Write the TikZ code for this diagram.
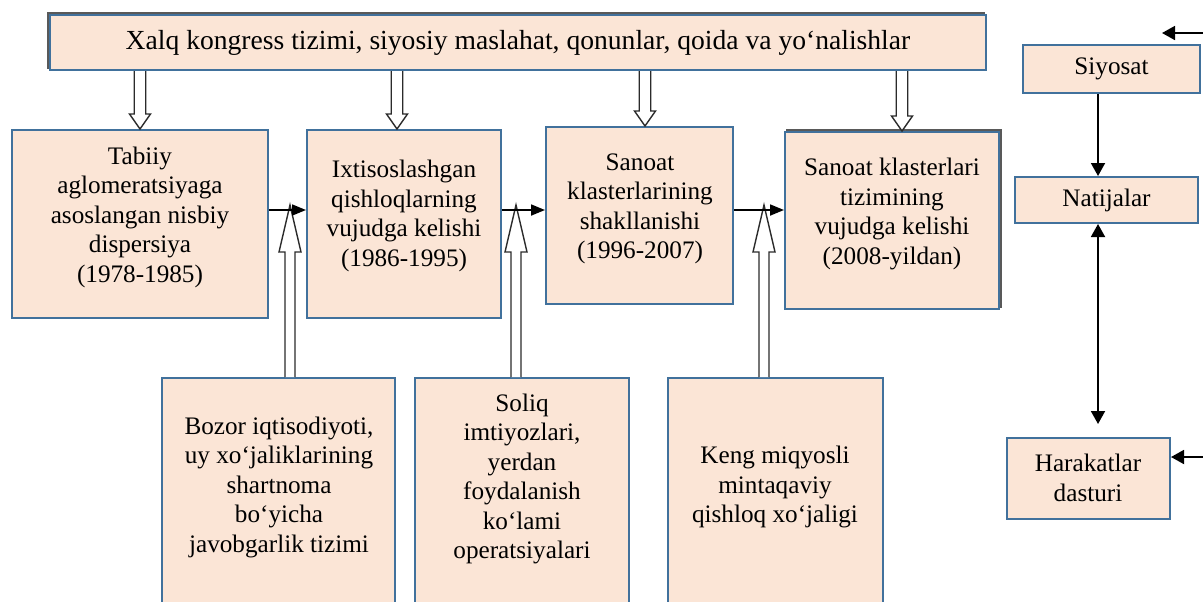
\documentclass[tikz,border=0pt]{standalone}
\usepackage{fontspec}
\setmainfont{Liberation Serif}
\usetikzlibrary{arrows.meta,calc,fit}
\definecolor{boxfill}{HTML}{FBE5D6}
\definecolor{boxline}{HTML}{41719C}
\definecolor{holline}{HTML}{2B2B2B}
\tikzset{
  box/.style={draw=boxline, fill=boxfill, line width=1pt, inner sep=0pt},
  shade/.style={draw=black!65, line width=1pt},
  txt/.style={align=center, font=\fontsize{12.6}{14.75}\selectfont, inner sep=0pt},
  bigtxt/.style={align=center, font=\fontsize{13.8}{16}\selectfont, inner sep=0pt},
  conn/.style={line width=0.9pt, -{Triangle[length=7pt,width=5.5pt]}},
  tri/.tip={Triangle[length=6.5pt,width=7pt]},
  hollow/.style={draw=holline, fill=white, line width=0.7pt, line join=miter},
}
% hollow arrow pointing down: #1 start (top), #2 tip
\newcommand{\hollowdown}[2]{%
  \path[hollow] let \p1=(#1), \p2=(#2) in
    (\x2-2.875pt,\y1) -- (\x2-2.875pt,\y2+7.5pt) -- (\x2-5.25pt,\y2+7.5pt) -- (\x2,\y2)
    -- (\x2+5.25pt,\y2+7.5pt) -- (\x2+2.875pt,\y2+7.5pt) -- (\x2+2.875pt,\y1);
}
% hollow arrow pointing up: #1 start (bottom), #2 tip
\newcommand{\hollowup}[2]{%
  \path[hollow] let \p1=(#1), \p2=(#2) in
    (\x2-2.5pt,\y1) -- (\x2-2.5pt,\y2-23.5pt) -- (\x2-5.5pt,\y2-23.5pt) -- (\x2,\y2)
    -- (\x2+5.5pt,\y2-23.5pt) -- (\x2+2.5pt,\y2-23.5pt) -- (\x2+2.5pt,\y1);
}
\begin{document}
\begin{tikzpicture}[x=0.5pt,y=-0.5pt]
\useasboundingbox (0,0) rectangle (1203,601);
\clip (0,0) rectangle (1203,601);

% ---------- shadows ----------
\draw[shade] (48,13) rectangle (984,68);
\draw[shade] (787,130) rectangle (1001,307);

% ---------- boxes ----------
\node[box, fit={(50,15) (986,70)}] (top) {};
\node[box, fit={(12,130) (268,318)}] (b1) {};
\node[box, fit={(307,130) (501,318)}] (b2) {};
\node[box, fit={(546,127) (733,304)}] (b3) {};
\node[box, fit={(785,132) (999,309)}] (b4) {};
\node[box, fit={(162,378) (395,640)}] (c1) {};
\node[box, fit={(415,378) (629,640)}] (c2) {};
\node[box, fit={(668,378) (883,640)}] (c3) {};
\node[box, fit={(1023,45) (1200,93)}] (siy) {};
\node[box, fit={(1015,177) (1198,223)}] (nat) {};
\node[box, fit={(1007,438) (1170,519)}] (har) {};

% ---------- texts ----------
\node[bigtxt] (topt) at (518,43) {Xalq kongress tizimi, siyosiy maslahat, qonunlar, qoida va yo‘nalishlar};
\node[txt] (b1t) at (140,217) {Tabiiy\\aglomeratsiyaga\\asoslangan nisbiy\\dispersiya\\(1978-1985)};
\node[txt] (b2t) at (404,216) {Ixtisoslashgan\\qishloqlarning\\vujudga kelishi\\(1986-1995)};
\node[txt] (b3t) at (640,209) {Sanoat\\klasterlarining\\shakllanishi\\(1996-2007)};
\node[txt] (b4t) at (892,214) {Sanoat klasterlari\\tizimining\\vujudga kelishi\\(2008-yildan)};
\node[txt] (c1t) at (279,487) {Bozor iqtisodiyoti,\\uy xo‘jaliklarining\\shartnoma\\bo‘yicha\\javobgarlik tizimi};
\node[txt] (c2t) at (522,479) {Soliq\\imtiyozlari,\\yerdan\\foydalanish\\ko‘lami\\operatsiyalari};
\node[txt] (c3t) at (775,487) {Keng miqyosli\\mintaqaviy\\qishloq xo‘jaligi};
\node[txt] (siyt) at (siy.center) {Siyosat};
\node[txt] (natt) at (nat.center) {Natijalar};
\node[txt] (hart) at (1088,478) {Harakatlar\\dasturi};

% ---------- coordinates ----------
\coordinate (d1) at (140,0);
\coordinate (d2) at (397,0);
\coordinate (d3) at (645,0);
\coordinate (d4) at (902,0);
\coordinate (j1) at (290,210);
\coordinate (j2) at (516,210);
\coordinate (j3) at (764,210);
\coordinate (t1) at (290,205);
\coordinate (t2) at (516,205);
\coordinate (t3) at (764,205);
\coordinate (v) at (1098,0);
\coordinate (r1) at (1206,33);
\coordinate (r1e) at (1162,33);
\coordinate (r2) at (1206,457);

% ---------- hollow arrows ----------
\hollowdown{top.south -| d1}{b1.north -| d1}
\hollowdown{top.south -| d2}{b2.north -| d2}
\hollowdown{top.south -| d3}{b3.north -| d3}
\hollowdown{top.south -| d4}{b4.north -| d4}
\hollowup{c1.north -| t1}{t1}
\hollowup{c2.north -| t2}{t2}
\hollowup{c3.north -| t3}{t3}

% ---------- solid connectors ----------
\draw[conn] (b1.east |- j1) -- (b2.west |- j1);
\draw[conn] (b2.east |- j2) -- (b3.west |- j2);
\draw[conn] (b3.east |- j3) -- (b4.west |- j3);
\draw[line width=0.9pt, -tri] (siy.south -| v) -- (nat.north -| v);
\draw[line width=0.9pt, tri-tri, shorten >=6.5pt] (nat.south -| v) -- (har.north -| v);
\draw[line width=0.9pt, -tri] (r1) -- (r1e);
\draw[line width=0.9pt, -tri] (r2) -- (har.east |- r2);
\end{tikzpicture}
\end{document}
